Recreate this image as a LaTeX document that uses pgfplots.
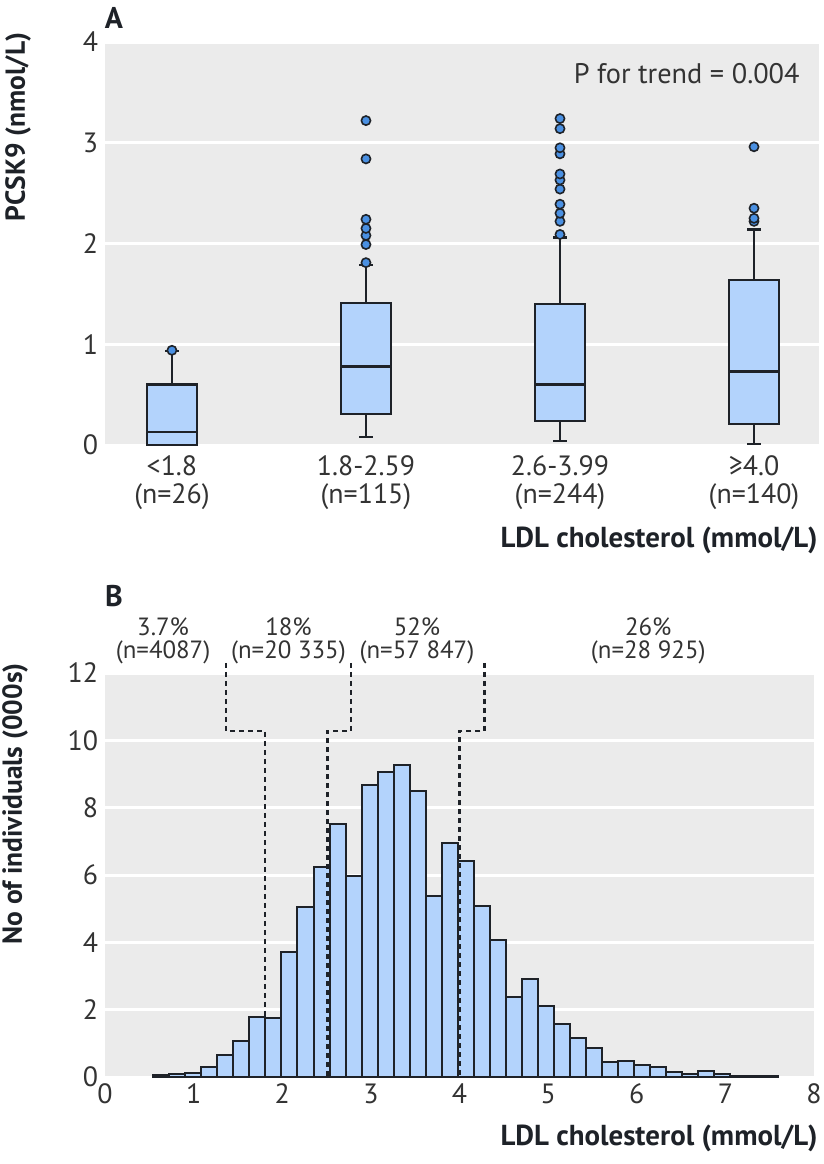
\documentclass[border=0pt]{standalone}
\usepackage{fontspec}
\setmainfont{PT Sans}
\usepackage{pgfplots}
\pgfplotsset{compat=1.18}
\usepgfplotslibrary{statistics}
\definecolor{bggray}{RGB}{235,235,235}
\definecolor{boxblue}{RGB}{179,211,252}
\definecolor{dotblue}{RGB}{74,144,226}
\definecolor{edge}{RGB}{30,34,40}
\definecolor{txt}{RGB}{51,51,51}
\newcommand{\tickfont}{\fontsize{14}{14}\selectfont}
\newcommand{\labfont}{\fontsize{14.5}{16}\selectfont\bfseries}
\newcommand{\ylabfont}{\fontsize{13.8}{16}\selectfont\bfseries}
\pgfplotsset{
  common/.style={
    scale only axis, anchor=south west,
    axis background/.style={fill=bggray},
    axis line style={draw=none}, tick style={draw=none},
    ymajorgrids, grid style={white, line width=1.5bp},
    tick label style={font=\tickfont, text=txt},
    /pgf/number format/assume math mode=true,
    clip=false,
  },
  bx/.style={boxplot prepared={#1}, fill=boxblue, draw=edge, line width=1.1bp,
    mark=*, mark size=2.3bp, mark options={fill=dotblue, draw=edge, line width=0.8bp, solid}},
}
\begin{document}
\begin{tikzpicture}
\useasboundingbox (0,0) rectangle (412bp,-582bp);
% Panel A
\begin{axis}[common,
  at={(52.5bp,-222.5bp)}, width=357bp, height=201.5bp,
  xmin=0.655, xmax=4.335, ymin=0, ymax=4,
  ytick={0,1,2,3,4},
  xtick={1,2,3,4},
  xticklabels={{<1.8\\(n=26)},{1.8-2.59\\(n=115)},{2.6-3.99\\(n=244)},{≥4.0\\(n=140)}},
  xticklabel style={align=center, yshift=-2bp},
  boxplot/draw direction=y,
  boxplot/box extend=0.26, boxplot/whisker extend=0.07,
]
\addplot[bx={draw position=1, lower whisker=0, lower quartile=0, median=0.13, upper quartile=0.60, upper whisker=0.93}]
  coordinates {(0,0.94)};
\addplot[bx={draw position=2, lower whisker=0.08, lower quartile=0.31, median=0.78, upper quartile=1.41, upper whisker=1.79}]
  coordinates {(0,1.81) (0,1.99) (0,2.08) (0,2.15) (0,2.24) (0,2.84) (0,3.22)};
\addplot[bx={draw position=3, lower whisker=0.04, lower quartile=0.24, median=0.60, upper quartile=1.40, upper whisker=2.06}]
  coordinates {(0,2.09) (0,2.22) (0,2.30) (0,2.39) (0,2.54) (0,2.63) (0,2.69) (0,2.89) (0,2.95) (0,3.14) (0,3.24)};
\addplot[bx={draw position=4, lower whisker=0.01, lower quartile=0.21, median=0.73, upper quartile=1.64, upper whisker=2.14}]
  coordinates {(0,2.22) (0,2.25) (0,2.35) (0,2.96)};
\node[anchor=east, inner sep=0pt, font=\fontsize{14.2}{15}\selectfont, text=txt] at (axis cs:4.237,3.69) {P for trend = 0.004};
\end{axis}
% Panel B
\begin{axis}[common,
  at={(52.5bp,-538.5bp)}, width=354.5bp, height=202bp,
  xmin=0, xmax=8, ymin=0, ymax=12,
  xtick={0,...,8}, ytick={0,2,...,12},
]
\addplot[ybar interval, fill=boxblue, draw=edge, line width=1bp] coordinates {
(0.545,0.06) (0.726,0.10) (0.907,0.13) (1.087,0.31) (1.268,0.65) (1.449,1.08)
(1.630,1.78) (1.811,1.75) (1.991,3.72) (2.172,5.04) (2.353,6.24) (2.534,7.53)
(2.715,5.97) (2.895,8.67) (3.076,9.07) (3.257,9.28) (3.438,8.49) (3.619,5.37)
(3.799,6.94) (3.980,6.41) (4.161,5.09) (4.342,4.08) (4.523,2.37) (4.704,2.92)
(4.884,2.12) (5.065,1.57) (5.246,1.16) (5.427,0.86) (5.608,0.44) (5.788,0.48)
(5.969,0.36) (6.150,0.29) (6.331,0.15) (6.512,0.10) (6.692,0.17) (6.873,0.08)
(7.054,0.03) (7.235,0.02) (7.416,0.02) (7.596,0.02)};
\addplot[edge, line width=1.2bp, dash pattern=on 2.5bp off 2bp] coordinates {(1.366,12.3) (1.366,10.28) (1.806,10.28) (1.806,0)};
\addplot[edge, line width=1.2bp, dash pattern=on 2.5bp off 2bp] coordinates {(2.777,12.3) (2.777,10.28) (2.51,10.28) (2.51,0)};
\addplot[edge, line width=1.2bp, dash pattern=on 2.5bp off 2bp] coordinates {(4.28,12.3) (4.28,10.28) (4.0,10.28) (4.0,0)};
\begin{scope}[every node/.style={align=center, text=txt, font=\fontsize{12.5}{11.5}\selectfont}]
\node at (axis cs:0.655,12.95) {3.7\%\\(n=4087)};
\node at (axis cs:2.07,12.95) {18\%\\(n=20 335)};
\node at (axis cs:3.52,12.95) {52\%\\(n=57 847)};
\node at (axis cs:6.13,12.95) {26\%\\(n=28 925)};
\end{scope}
\end{axis}
% outer labels
\node[font=\fontsize{15}{16}\selectfont\bfseries, text=edge] at (57bp,-9bp) {A};
\node[font=\fontsize{15}{16}\selectfont\bfseries, text=edge] at (57bp,-298bp) {B};
\node[font=\ylabfont, text=edge, rotate=90] at (9bp,-63.5bp) {PCSK9 (nmol/L)};
\node[font=\ylabfont, text=edge, rotate=90] at (7.5bp,-402bp) {No of individuals (000s)};
\node[font=\labfont, text=edge, anchor=east, inner sep=0pt] at (409bp,-270bp) {LDL cholesterol (mmol/L)};
\node[font=\labfont, text=edge, anchor=east, inner sep=0pt] at (409bp,-569bp) {LDL cholesterol (mmol/L)};
\end{tikzpicture}
\end{document}
